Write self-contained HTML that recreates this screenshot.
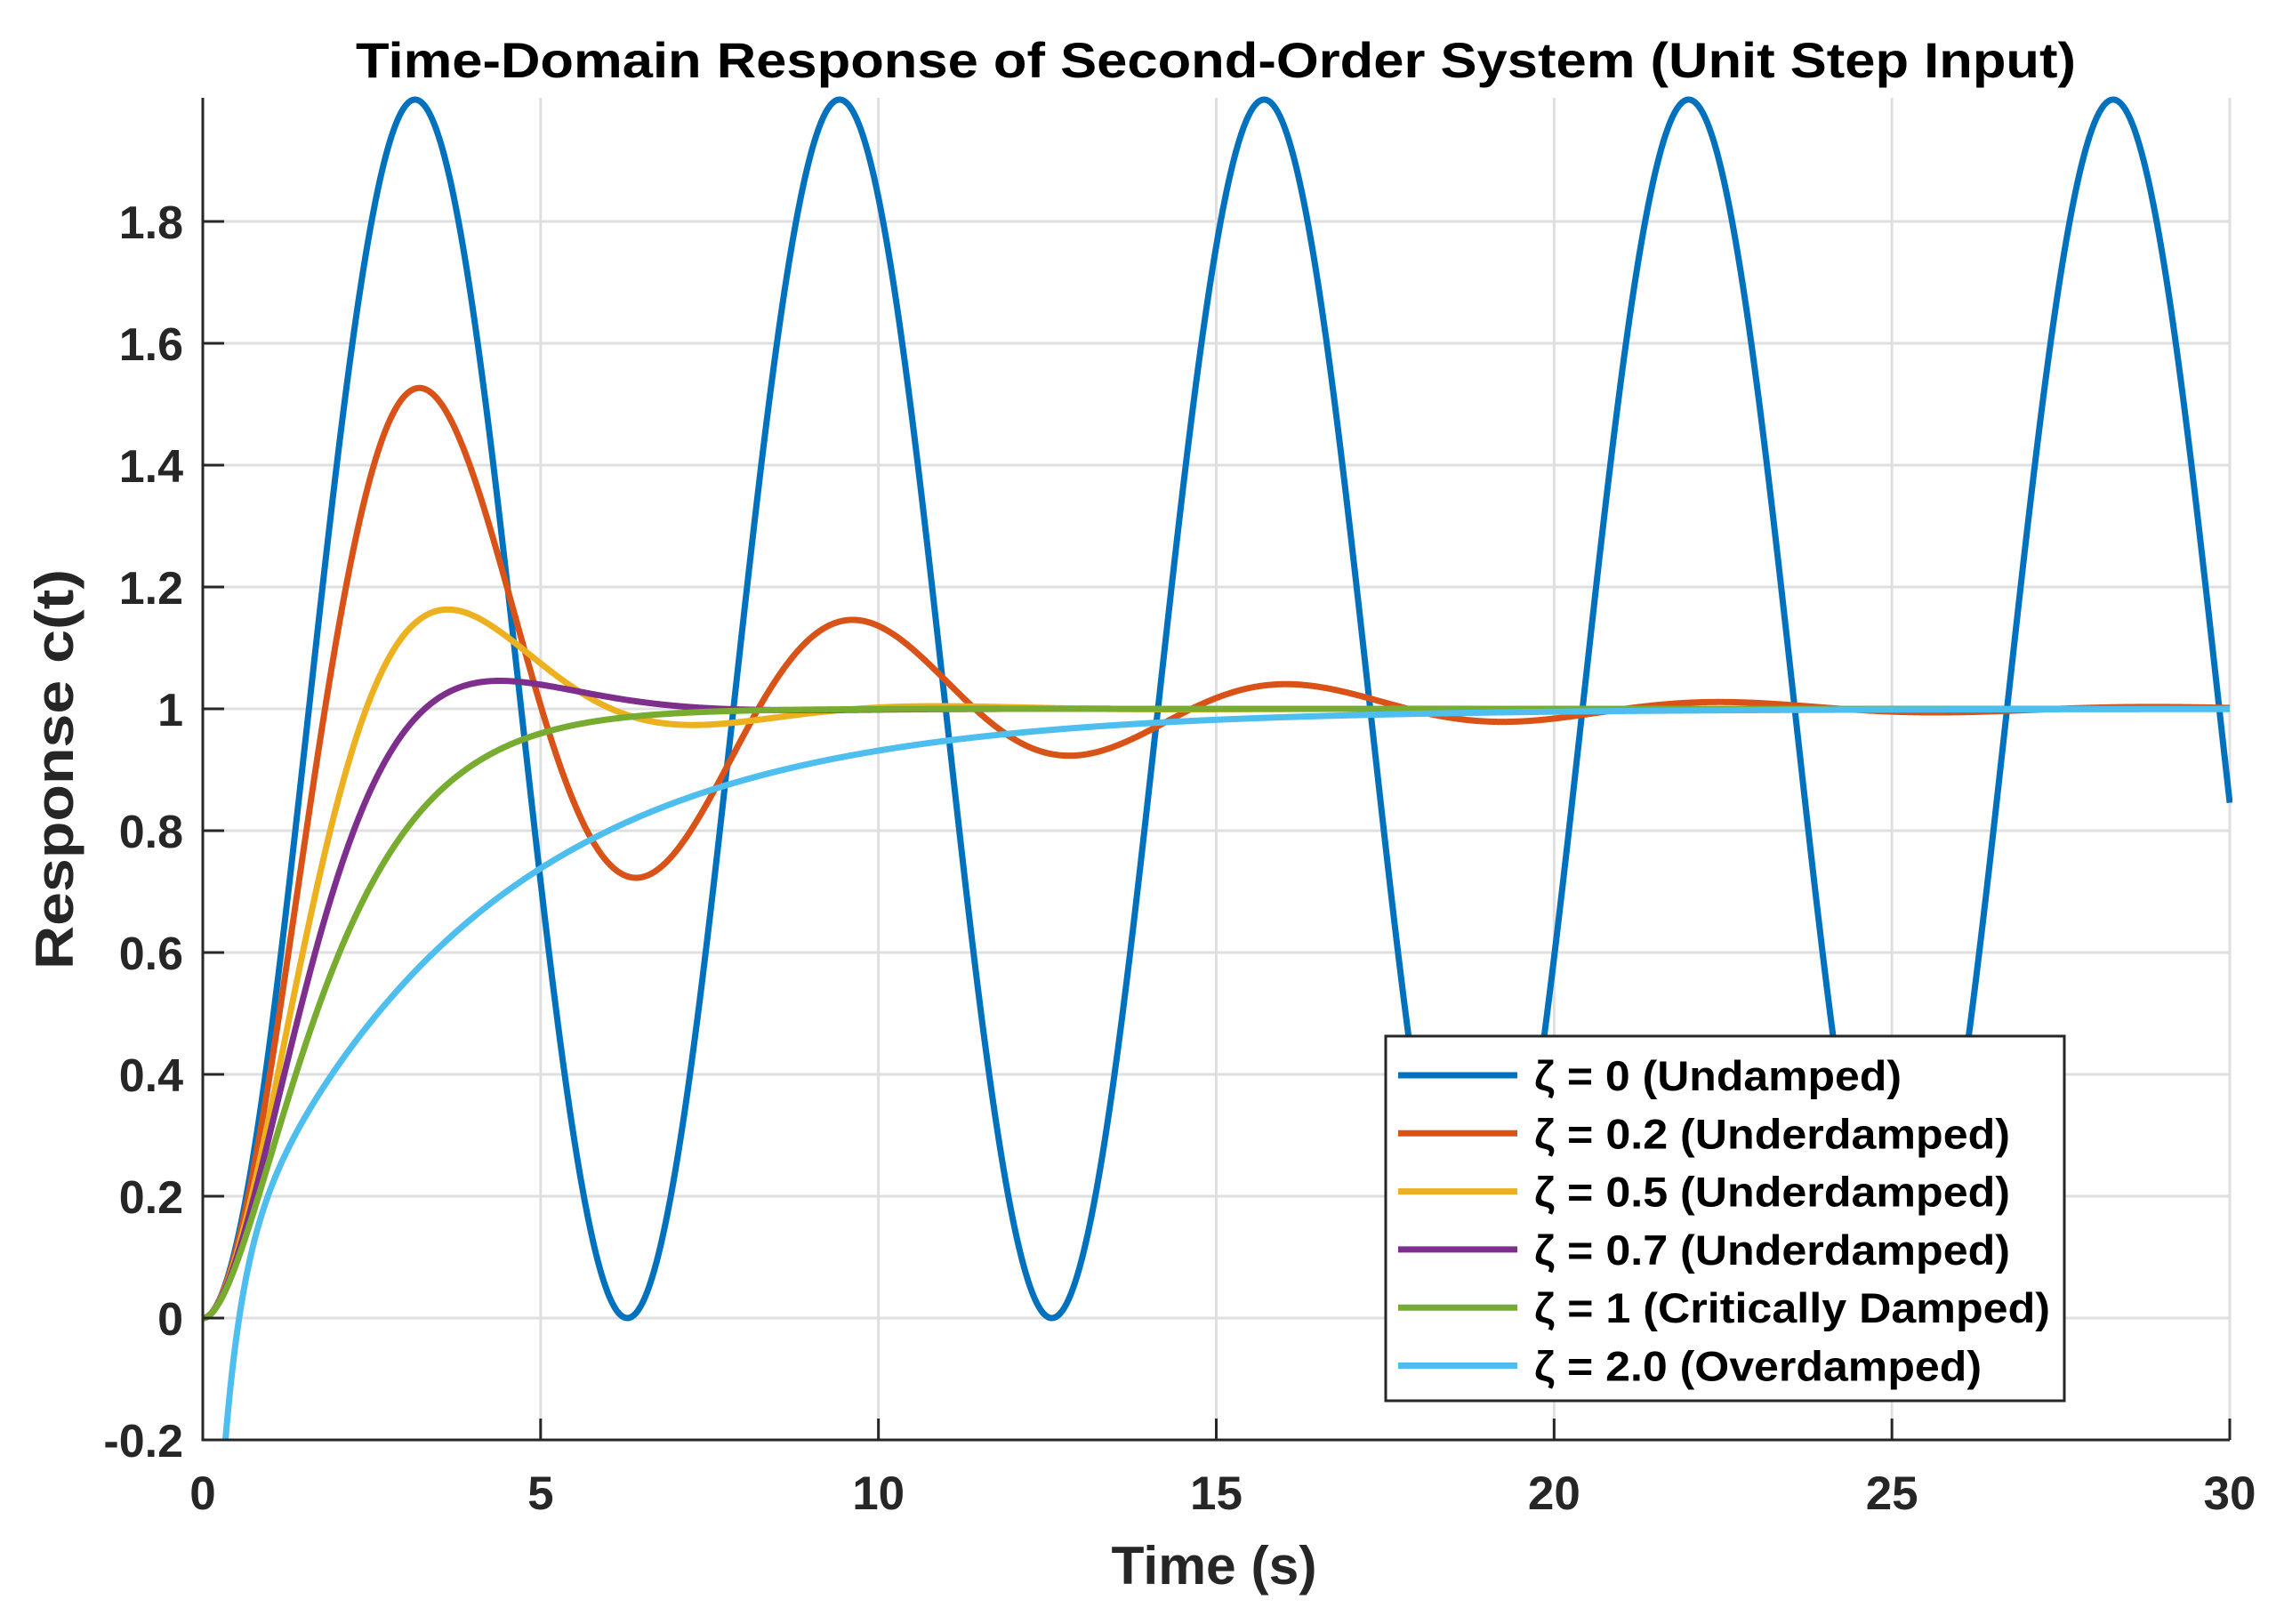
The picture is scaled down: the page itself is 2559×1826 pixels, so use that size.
<!DOCTYPE html>
<html><head><meta charset="utf-8"><style>
html,body{margin:0;padding:0;background:#fff;overflow:hidden;width:2559px;height:1826px;}
svg{display:block;font-family:"Liberation Sans",Arial,sans-serif;font-weight:bold;}
</style></head><body>
<svg id="chart" width="2559" height="1826" viewBox="0 0 2559 1826" xmlns="http://www.w3.org/2000/svg">
<defs><clipPath id="clip"><rect x="228" y="100" width="2282" height="1519"/></clipPath></defs>
<g id="grid"></g>
<g id="series" clip-path="url(#clip)"></g>
<g id="axes"></g>
<text x="1367" y="87" font-size="56" text-anchor="middle" textLength="1934" lengthAdjust="spacingAndGlyphs" fill="#000">Time-Domain Response of Second-Order System (Unit Step Input)</text>
<text x="1365" y="1781" font-size="60" text-anchor="middle" textLength="231" lengthAdjust="spacingAndGlyphs" fill="#262626">Time (s)</text>
<text transform="translate(82,865) rotate(-90)" font-size="60" text-anchor="middle" textLength="450" lengthAdjust="spacingAndGlyphs" fill="#262626">Response c(t)</text>
<g id="legend"></g>
</svg>
<script>
var xTicks = [0, 5, 10, 15, 20, 25, 30];
var yTicks = [-0.2, 0, 0.2, 0.4, 0.6, 0.8, 1, 1.2, 1.4, 1.6, 1.8];
var yTickLabels = ["-0.2", "0", "0.2", "0.4", "0.6", "0.8", "1", "1.2", "1.4", "1.6", "1.8"];
var zetas = [0, 0.2, 0.5, 0.7, 1, 2.0];
var wn = 1;
var seriesLabels = ["\u03B6 = 0 (Undamped)", "\u03B6 = 0.2 (Underdamped)", "\u03B6 = 0.5 (Underdamped)", "\u03B6 = 0.7 (Underdamped)", "\u03B6 = 1 (Critically Damped)", "\u03B6 = 2.0 (Overdamped)"];
var colors = ["#0072BD", "#D95319", "#EDB120", "#7E2F8E", "#77AC30", "#4DBEEE"];
var legendTextWidths = [413, 535, 535, 535, 580, 503];
var tMax = 30, dt = 0.01;

var NS = "http://www.w3.org/2000/svg";
var X0 = 228, X1 = 2507, YB = 1619, Y0 = 1482, PX = 685;
function sx(t){ return X0 + (t - 0) / 30 * (X1 - X0); }
function sy(v){ return Y0 - v * PX; }
function mk(tag, attrs, parent){ var e = document.createElementNS(NS, tag); for (var k in attrs) e.setAttribute(k, attrs[k]); parent.appendChild(e); return e; }

function response(z, t){
  if (z === 0) return 1 - Math.cos(wn * t);
  if (z < 1) {
    var wd = wn * Math.sqrt(1 - z * z), phi = Math.acos(z);
    return 1 - Math.exp(-z * wn * t) / Math.sqrt(1 - z * z) * Math.sin(wd * t + phi);
  }
  if (z === 1) return 1 - Math.exp(-wn * t) * (1 + wn * t);
  var r = Math.sqrt(z * z - 1), s1 = -z * wn + wn * r, s2 = -z * wn - wn * r;
  return 1 - Math.exp(s1 * t) - Math.exp(s2 * t);
}

var grid = document.getElementById('grid');
var axes = document.getElementById('axes');
xTicks.forEach(function(v){
  if (v === 0) return;
  var g = mk('line', {x1: sx(v), x2: sx(v), y1: 110, y2: YB, stroke: '#dfdfdf', 'stroke-width': 3}, grid);
  
  
  var tk = mk('line', {x1: sx(v), x2: sx(v), y1: YB, y2: YB - 24, stroke: '#262626', 'stroke-width': 3}, axes);
  
  
});
yTicks.forEach(function(v, i){
  if (i > 0) {
    var g = mk('line', {x1: X0, x2: X1, y1: sy(v), y2: sy(v), stroke: '#dfdfdf', 'stroke-width': 3}, grid);
    
    
    var tk = mk('line', {x1: X0, x2: X0 + 24, y1: sy(v), y2: sy(v), stroke: '#262626', 'stroke-width': 3}, axes);
    
    
  }
  var lb = mk('text', {x: 206, y: sy(v) + 19, 'font-size': 52, 'text-anchor': 'end', fill: '#262626'}, axes);
  
  
  lb.textContent = yTickLabels[i];
});
xTicks.forEach(function(v){
  var lb = mk('text', {x: sx(v), y: 1697, 'font-size': 53, 'text-anchor': 'middle', fill: '#262626'}, axes);
  
  
  lb.textContent = String(v);
});
var ax = mk('path', {d: 'M' + X0 + ' 110 L' + X0 + ' ' + YB + ' L' + X1 + ' ' + YB, fill: 'none', stroke: '#262626', 'stroke-width': 3}, axes);



var series = document.getElementById('series');
zetas.forEach(function(z, i){
  var d = '';
  for (var t = 0; t <= tMax + 1e-9; t += dt) {
    var v = Math.max(-3, response(z, t));
    d += (d ? 'L' : 'M') + sx(t).toFixed(2) + ' ' + sy(v).toFixed(2);
  }
  var p = mk('path', {d: d, fill: 'none', stroke: colors[i], 'stroke-width': 7, 'stroke-linejoin': 'round'}, series);
  
  
});

var leg = document.getElementById('legend');
var box = mk('rect', {x: 1558, y: 1165, width: 763, height: 410, fill: '#fff', stroke: '#262626', 'stroke-width': 3}, leg);


seriesLabels.forEach(function(lbl, i){
  var y = 1209 + i * 65.3;
  var l = mk('line', {x1: 1572, x2: 1706, y1: y, y2: y, stroke: colors[i], 'stroke-width': 7}, leg);
  
  
  var tx = mk('text', {x: 1725, y: y + 17, 'font-size': 47, fill: '#000', textLength: legendTextWidths[i], lengthAdjust: 'spacingAndGlyphs'}, leg);
  
  
  tx.textContent = lbl;
});
</script>
</body></html>
